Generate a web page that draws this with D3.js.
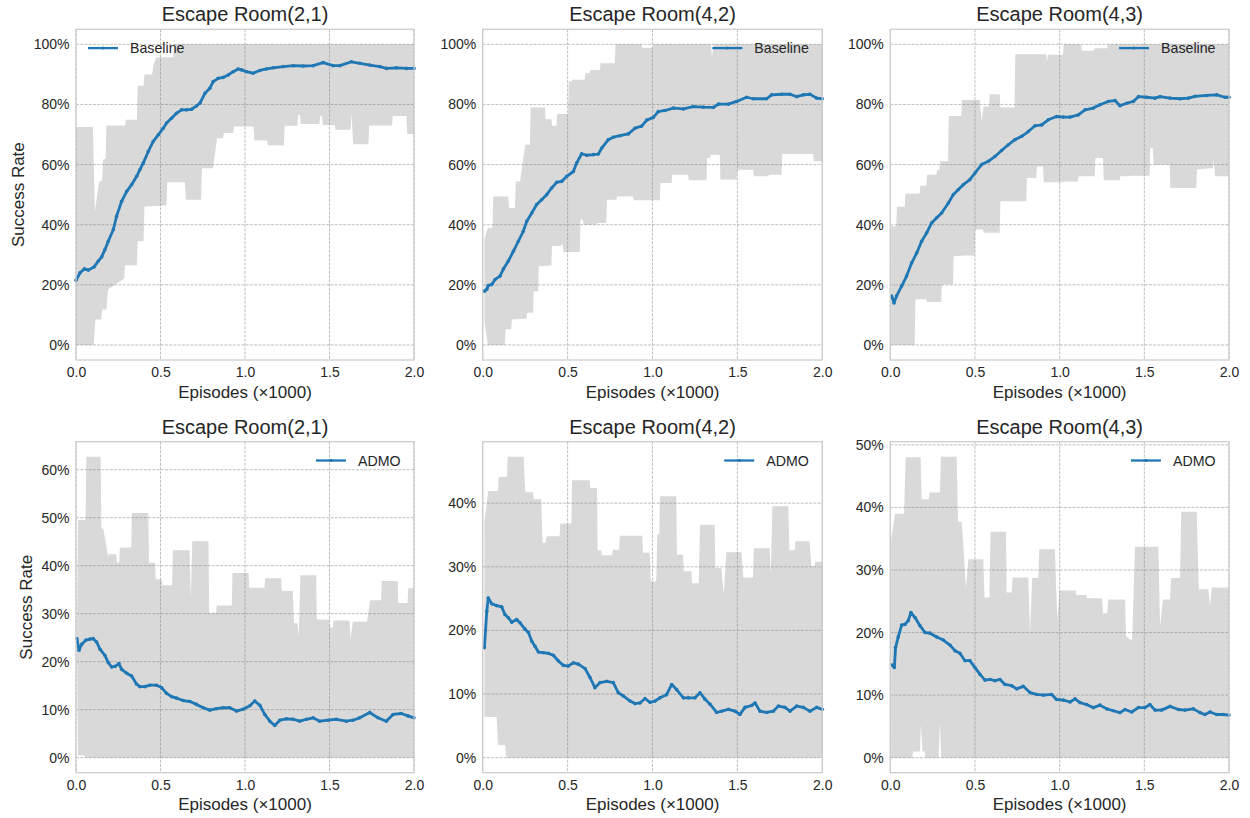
<!DOCTYPE html>
<html>
<head>
<meta charset="utf-8">
<script src="https://cdn.jsdelivr.net/npm/d3@7"></script>
<style>
  body { margin: 0; background: #fff; }
  text { font-family: "Liberation Sans", Arial, sans-serif; fill: #262626; }
</style>
</head>
<body>
<svg id="chart" width="1250" height="818"></svg>
<script>
// ---- data (episodes in thousands, success rate 0..1) ----
const episodeTicks = [0, 0.5, 1, 1.5, 2];
const envTitles = ["Escape Room(2,1)", "Escape Room(4,2)", "Escape Room(4,3)"];
const methodNames = ["Baseline", "ADMO"];
const baseYTicks = [0, 0.2, 0.4, 0.6, 0.8, 1];
const admo21YTicks = [0, 0.1, 0.2, 0.3, 0.4, 0.5, 0.6];
const admo42YTicks = [0, 0.1, 0.2, 0.3, 0.4];
const admo43YTicks = [0, 0.1, 0.2, 0.3, 0.4, 0.5];

const base21Mean = [[0,0.215],[0.024,0.24],[0.05,0.253],[0.073,0.249],[0.106,0.259],[0.132,0.279],[0.152,0.293],[0.171,0.317],[0.191,0.345],[0.221,0.384],[0.24,0.428],[0.27,0.478],[0.3,0.511],[0.329,0.533],[0.359,0.561],[0.378,0.583],[0.398,0.605],[0.428,0.644],[0.457,0.677],[0.487,0.699],[0.516,0.721],[0.536,0.738],[0.565,0.754],[0.595,0.771],[0.625,0.782],[0.654,0.782],[0.684,0.784],[0.713,0.795],[0.733,0.804],[0.763,0.837],[0.792,0.854],[0.812,0.876],[0.841,0.887],[0.871,0.89],[0.9,0.898],[0.93,0.909],[0.96,0.918],[0.98,0.915],[1.009,0.909],[1.048,0.904],[1.088,0.913],[1.127,0.918],[1.167,0.922],[1.226,0.926],[1.285,0.929],[1.344,0.928],[1.403,0.929],[1.462,0.939],[1.522,0.929],[1.561,0.929],[1.63,0.942],[1.68,0.937],[1.739,0.931],[1.798,0.926],[1.837,0.92],[1.896,0.922],[1.956,0.92],[2,0.92]];
const base21Upper = [[0,0.725],[0.1,0.725],[0.112,0.445],[0.137,0.544],[0.155,0.546],[0.16,0.616],[0.175,0.62],[0.18,0.73],[0.29,0.73],[0.295,0.749],[0.36,0.749],[0.365,0.862],[0.4,0.862],[0.405,0.9],[0.45,0.9],[0.46,0.935],[0.475,0.957],[0.575,0.957],[0.58,1],[2,1]];
const base21Lower = [[0,0],[0.105,0],[0.115,0.085],[0.15,0.085],[0.155,0.118],[0.18,0.118],[0.19,0.185],[0.23,0.2],[0.285,0.22],[0.29,0.265],[0.36,0.265],[0.365,0.345],[0.4,0.345],[0.405,0.461],[0.535,0.464],[0.54,0.541],[0.645,0.541],[0.65,0.483],[0.74,0.483],[0.745,0.588],[0.81,0.588],[0.835,0.688],[0.87,0.688],[0.875,0.705],[0.93,0.705],[0.935,0.727],[1.05,0.727],[1.055,0.68],[1.13,0.68],[1.135,0.664],[1.23,0.664],[1.235,0.729],[1.31,0.729],[1.315,0.765],[1.325,0.765],[1.33,0.735],[1.44,0.735],[1.445,0.762],[1.455,0.762],[1.46,0.732],[1.53,0.732],[1.535,0.716],[1.625,0.716],[1.63,0.771],[1.64,0.668],[1.73,0.668],[1.735,0.73],[1.87,0.73],[1.875,0.762],[1.955,0.762],[1.96,0.702],[2,0.702]];

const base42Mean = [[0.01,0.179],[0.024,0.185],[0.033,0.198],[0.053,0.201],[0.073,0.218],[0.102,0.229],[0.122,0.253],[0.151,0.279],[0.181,0.312],[0.21,0.345],[0.239,0.378],[0.259,0.411],[0.289,0.439],[0.318,0.467],[0.347,0.483],[0.377,0.5],[0.406,0.522],[0.436,0.541],[0.465,0.544],[0.495,0.561],[0.534,0.577],[0.553,0.605],[0.583,0.636],[0.612,0.631],[0.652,0.633],[0.681,0.635],[0.701,0.655],[0.74,0.683],[0.769,0.691],[0.809,0.696],[0.858,0.702],[0.897,0.721],[0.936,0.728],[0.966,0.748],[1.005,0.757],[1.034,0.776],[1.074,0.78],[1.123,0.788],[1.182,0.785],[1.24,0.793],[1.299,0.791],[1.358,0.79],[1.388,0.801],[1.447,0.801],[1.496,0.81],[1.554,0.824],[1.594,0.819],[1.672,0.819],[1.702,0.832],[1.761,0.834],[1.81,0.834],[1.849,0.826],[1.888,0.832],[1.927,0.834],[1.967,0.821],[2,0.819]];
const base42Upper = [[0.01,0.353],[0.03,0.389],[0.058,0.389],[0.062,0.494],[0.15,0.494],[0.155,0.456],[0.19,0.456],[0.195,0.544],[0.22,0.544],[0.25,0.666],[0.278,0.666],[0.282,0.79],[0.367,0.79],[0.37,0.751],[0.405,0.751],[0.408,0.729],[0.435,0.729],[0.438,0.768],[0.503,0.768],[0.507,0.876],[0.524,0.876],[0.527,0.882],[0.6,0.882],[0.605,0.904],[0.63,0.904],[0.634,0.915],[0.69,0.915],[0.694,0.937],[0.778,0.937],[0.782,1],[0.935,1],[0.94,0.989],[1.003,0.989],[1.007,1],[1.345,1],[1.35,0.959],[1.36,1],[2,1]];
const base42Lower = [[0.01,0.08],[0.02,0.04],[0.03,0],[0.13,0],[0.135,0.052],[0.168,0.052],[0.172,0.085],[0.258,0.087],[0.262,0.107],[0.297,0.107],[0.3,0.179],[0.327,0.179],[0.33,0.262],[0.405,0.264],[0.408,0.329],[0.455,0.329],[0.47,0.335],[0.475,0.309],[0.572,0.309],[0.576,0.417],[0.59,0.417],[0.594,0.4],[0.67,0.4],[0.674,0.406],[0.728,0.406],[0.732,0.483],[0.788,0.483],[0.792,0.494],[0.886,0.494],[0.89,0.481],[1.043,0.481],[1.047,0.539],[1.112,0.539],[1.116,0.566],[1.21,0.566],[1.214,0.548],[1.318,0.548],[1.322,0.622],[1.338,0.622],[1.342,0.633],[1.396,0.633],[1.4,0.55],[1.495,0.55],[1.499,0.583],[1.593,0.583],[1.597,0.561],[1.681,0.561],[1.685,0.566],[1.76,0.566],[1.764,0.635],[1.946,0.635],[1.95,0.611],[2,0.611]];

const base43Mean = [[0.008,0.163],[0.022,0.14],[0.037,0.163],[0.067,0.196],[0.096,0.229],[0.126,0.273],[0.156,0.306],[0.185,0.345],[0.215,0.373],[0.244,0.406],[0.274,0.423],[0.303,0.439],[0.343,0.472],[0.372,0.5],[0.402,0.517],[0.431,0.533],[0.47,0.55],[0.5,0.572],[0.539,0.6],[0.579,0.611],[0.618,0.627],[0.657,0.647],[0.697,0.666],[0.736,0.683],[0.776,0.694],[0.815,0.71],[0.854,0.729],[0.894,0.732],[0.933,0.749],[0.982,0.76],[1.022,0.758],[1.061,0.758],[1.11,0.765],[1.15,0.782],[1.199,0.788],[1.238,0.799],[1.287,0.81],[1.327,0.813],[1.356,0.796],[1.396,0.804],[1.435,0.81],[1.465,0.826],[1.514,0.824],[1.563,0.821],[1.593,0.826],[1.652,0.821],[1.711,0.819],[1.76,0.821],[1.799,0.827],[1.868,0.83],[1.927,0.832],[1.976,0.824],[2,0.824]];
const base43Upper = [[0.005,0.395],[0.035,0.395],[0.039,0.46],[0.085,0.46],[0.089,0.503],[0.173,0.503],[0.177,0.53],[0.213,0.53],[0.217,0.566],[0.272,0.566],[0.276,0.583],[0.29,0.583],[0.294,0.611],[0.341,0.611],[0.345,0.762],[0.419,0.762],[0.423,0.815],[0.528,0.815],[0.54,0.74],[0.55,0.793],[0.583,0.793],[0.587,0.834],[0.646,0.834],[0.65,0.79],[0.734,0.79],[0.738,0.967],[0.92,0.967],[0.925,0.94],[0.93,0.965],[1.02,0.965],[1.024,1],[1.128,1],[1.132,0.979],[1.2,0.979],[1.205,0.987],[1.28,0.987],[1.285,1],[2,1]];
const base43Lower = [[0.005,0],[0.144,0],[0.148,0.152],[0.213,0.152],[0.217,0.143],[0.301,0.143],[0.305,0.201],[0.37,0.201],[0.374,0.295],[0.45,0.298],[0.498,0.298],[0.502,0.384],[0.547,0.384],[0.551,0.373],[0.646,0.373],[0.65,0.478],[0.803,0.478],[0.807,0.555],[0.862,0.555],[0.866,0.594],[0.902,0.594],[0.906,0.541],[1.02,0.541],[1.024,0.544],[1.108,0.544],[1.112,0.561],[1.207,0.561],[1.211,0.622],[1.256,0.622],[1.26,0.548],[1.354,0.548],[1.358,0.561],[1.413,0.561],[1.417,0.563],[1.531,0.563],[1.535,0.655],[1.55,0.655],[1.555,0.6],[1.65,0.6],[1.654,0.522],[1.807,0.522],[1.811,0.584],[1.886,0.588],[1.905,0.588],[1.91,0.616],[1.918,0.561],[2,0.561]];

const admo21Mean = [[0.005,0.248],[0.018,0.224],[0.033,0.236],[0.059,0.245],[0.083,0.247],[0.102,0.248],[0.122,0.241],[0.142,0.226],[0.171,0.213],[0.191,0.198],[0.211,0.189],[0.231,0.19],[0.254,0.196],[0.27,0.184],[0.3,0.176],[0.329,0.17],[0.359,0.153],[0.378,0.148],[0.408,0.148],[0.437,0.151],[0.477,0.151],[0.506,0.146],[0.536,0.134],[0.566,0.127],[0.595,0.124],[0.634,0.119],[0.674,0.117],[0.713,0.111],[0.753,0.104],[0.792,0.099],[0.831,0.102],[0.871,0.104],[0.91,0.104],[0.95,0.097],[0.989,0.101],[1.029,0.108],[1.058,0.118],[1.088,0.109],[1.117,0.09],[1.147,0.076],[1.176,0.067],[1.206,0.078],[1.245,0.081],[1.285,0.08],[1.324,0.076],[1.364,0.08],[1.403,0.083],[1.442,0.076],[1.492,0.078],[1.541,0.08],[1.6,0.076],[1.639,0.078],[1.679,0.083],[1.738,0.094],[1.787,0.083],[1.836,0.076],[1.876,0.09],[1.925,0.092],[1.964,0.087],[2,0.083]];
const admo21Upper = [[0.005,0.247],[0.012,0.495],[0.057,0.495],[0.061,0.627],[0.146,0.627],[0.15,0.479],[0.162,0.476],[0.19,0.42],[0.195,0.424],[0.238,0.424],[0.242,0.406],[0.255,0.406],[0.26,0.438],[0.327,0.438],[0.331,0.51],[0.428,0.51],[0.432,0.406],[0.468,0.406],[0.472,0.372],[0.508,0.372],[0.512,0.359],[0.569,0.359],[0.573,0.432],[0.672,0.432],[0.68,0.33],[0.688,0.451],[0.784,0.451],[0.788,0.302],[0.829,0.302],[0.833,0.317],[0.922,0.317],[0.926,0.385],[1.021,0.385],[1.025,0.354],[1.115,0.354],[1.119,0.374],[1.214,0.374],[1.218,0.347],[1.283,0.347],[1.29,0.28],[1.31,0.28],[1.318,0.253],[1.328,0.38],[1.421,0.38],[1.425,0.288],[1.498,0.288],[1.502,0.271],[1.52,0.271],[1.524,0.286],[1.618,0.286],[1.625,0.247],[1.638,0.283],[1.722,0.283],[1.74,0.328],[1.805,0.328],[1.809,0.368],[1.903,0.368],[1.907,0.322],[1.962,0.322],[1.966,0.353],[2,0.353]];
const admo21Lower = [[0.005,0.245],[0.012,0.005],[0.05,0.005],[0.055,0],[2,0]];

const admo42Mean = [[0.01,0.173],[0.024,0.23],[0.033,0.251],[0.053,0.242],[0.082,0.239],[0.112,0.237],[0.131,0.225],[0.151,0.22],[0.171,0.213],[0.2,0.217],[0.22,0.212],[0.249,0.202],[0.269,0.197],[0.289,0.183],[0.308,0.175],[0.328,0.166],[0.357,0.165],[0.387,0.164],[0.416,0.161],[0.446,0.152],[0.475,0.145],[0.504,0.144],[0.534,0.149],[0.563,0.147],[0.603,0.14],[0.632,0.126],[0.661,0.11],[0.691,0.118],[0.73,0.12],[0.769,0.118],[0.799,0.102],[0.828,0.097],[0.868,0.089],[0.897,0.085],[0.926,0.086],[0.956,0.093],[0.985,0.087],[1.015,0.089],[1.044,0.094],[1.083,0.099],[1.113,0.115],[1.142,0.107],[1.182,0.094],[1.211,0.094],[1.25,0.094],[1.28,0.102],[1.309,0.092],[1.339,0.084],[1.378,0.071],[1.407,0.073],[1.447,0.076],[1.486,0.073],[1.515,0.068],[1.545,0.079],[1.584,0.082],[1.604,0.086],[1.633,0.073],[1.672,0.071],[1.711,0.073],[1.741,0.081],[1.78,0.079],[1.81,0.073],[1.849,0.081],[1.888,0.079],[1.927,0.073],[1.967,0.079],[2,0.076]];
const admo42Upper = [[0.01,0.369],[0.033,0.419],[0.09,0.419],[0.094,0.441],[0.143,0.441],[0.147,0.473],[0.241,0.473],[0.251,0.417],[0.296,0.417],[0.3,0.406],[0.345,0.406],[0.352,0.338],[0.37,0.338],[0.377,0.348],[0.453,0.348],[0.457,0.368],[0.522,0.368],[0.526,0.436],[0.63,0.436],[0.634,0.424],[0.673,0.424],[0.677,0.326],[0.698,0.326],[0.702,0.318],[0.763,0.318],[0.767,0.327],[0.803,0.327],[0.807,0.349],[0.94,0.349],[0.944,0.322],[0.984,0.322],[0.99,0.277],[1.022,0.277],[1.028,0.351],[1.04,0.351],[1.044,0.411],[1.14,0.411],[1.144,0.319],[1.18,0.319],[1.184,0.293],[1.229,0.293],[1.233,0.274],[1.272,0.274],[1.28,0.366],[1.366,0.366],[1.37,0.298],[1.405,0.298],[1.42,0.257],[1.435,0.323],[1.524,0.323],[1.535,0.283],[1.592,0.283],[1.596,0.329],[1.69,0.329],[1.697,0.288],[1.706,0.395],[1.8,0.395],[1.806,0.326],[1.838,0.326],[1.842,0.34],[1.925,0.34],[1.935,0.301],[1.955,0.301],[1.959,0.308],[2,0.308]];
const admo42Lower = [[0.01,0.064],[0.082,0.064],[0.09,0.02],[0.131,0.02],[0.14,0],[2,0]];

const admo43Mean = [[0.012,0.148],[0.024,0.144],[0.031,0.176],[0.047,0.193],[0.067,0.212],[0.087,0.213],[0.106,0.219],[0.122,0.232],[0.146,0.224],[0.175,0.211],[0.205,0.2],[0.234,0.199],[0.274,0.193],[0.313,0.188],[0.352,0.18],[0.382,0.171],[0.411,0.167],[0.441,0.155],[0.47,0.155],[0.5,0.144],[0.53,0.133],[0.559,0.124],[0.589,0.125],[0.618,0.123],[0.648,0.125],[0.677,0.117],[0.717,0.115],[0.746,0.11],[0.785,0.114],[0.825,0.104],[0.864,0.101],[0.904,0.1],[0.953,0.101],[0.982,0.093],[1.022,0.092],[1.061,0.089],[1.091,0.094],[1.12,0.088],[1.159,0.085],[1.199,0.08],[1.238,0.084],[1.278,0.078],[1.317,0.075],[1.356,0.072],[1.386,0.077],[1.425,0.073],[1.465,0.08],[1.504,0.08],[1.533,0.085],[1.563,0.076],[1.602,0.076],[1.652,0.082],[1.701,0.077],[1.74,0.076],[1.789,0.078],[1.829,0.072],[1.858,0.069],[1.888,0.073],[1.927,0.069],[1.967,0.069],[2,0.068]];
const admo43Upper = [[0.005,0.349],[0.028,0.39],[0.081,0.39],[0.091,0.48],[0.179,0.48],[0.185,0.413],[0.229,0.413],[0.232,0.424],[0.293,0.424],[0.299,0.481],[0.392,0.481],[0.4,0.377],[0.421,0.377],[0.43,0.345],[0.447,0.27],[0.461,0.317],[0.549,0.317],[0.556,0.256],[0.585,0.256],[0.592,0.361],[0.683,0.361],[0.687,0.264],[0.717,0.264],[0.722,0.288],[0.815,0.288],[0.825,0.2],[0.838,0.287],[0.874,0.287],[0.88,0.333],[0.972,0.333],[0.986,0.221],[1,0.267],[1.094,0.267],[1.098,0.26],[1.159,0.26],[1.163,0.255],[1.25,0.255],[1.256,0.231],[1.28,0.231],[1.287,0.253],[1.386,0.253],[1.392,0.194],[1.428,0.187],[1.445,0.337],[1.583,0.337],[1.593,0.21],[1.61,0.253],[1.652,0.253],[1.658,0.287],[1.711,0.287],[1.718,0.393],[1.809,0.393],[1.822,0.269],[1.878,0.269],[1.888,0.243],[1.898,0.272],[2,0.272]];
const admo43Lower = [[0.005,0],[0.13,0],[0.134,0.01],[0.175,0.01],[0.181,0.053],[0.19,0.01],[0.204,0.01],[0.206,0],[0.285,0],[0.293,0.057],[0.3,0],[2,0]];

// ---- layout ----
let svg = d3.select("#chart")
const colLeft = [76, 482.7, 890.3]
const colRight = [414, 822.3, 1229]
const rowTop = [29.3, 441.7]
const rowBottom = [360, 772.7]
const blue = "#1f77b4"

let panels = [
  { mean: base21Mean, upper: base21Upper, lower: base21Lower, ticks: baseYTicks, legendLeft: true },
  { mean: base42Mean, upper: base42Upper, lower: base42Lower, ticks: baseYTicks },
  { mean: base43Mean, upper: base43Upper, lower: base43Lower, ticks: baseYTicks },
  { mean: admo21Mean, upper: admo21Upper, lower: admo21Lower, ticks: admo21YTicks },
  { mean: admo42Mean, upper: admo42Upper, lower: admo42Lower, ticks: admo42YTicks },
  { mean: admo43Mean, upper: admo43Upper, lower: admo43Lower, ticks: admo43YTicks }
]

panels.forEach(function (p, i) {
  let row = Math.floor(i / 3), col = i % 3
  let left = colLeft[col], right = colRight[col], top = rowTop[row], bottom = rowBottom[row]

  let x = d3.scaleLinear().domain([0, 2]).range([left, right])
  // matplotlib style 5% margins around the data range
  let vals = p.upper.concat(p.lower).map(d => d[1])
  let lo = d3.min(vals), hi = d3.max(vals), pad = (hi - lo) * 0.05
  let y = d3.scaleLinear().domain([lo - pad, hi + pad]).range([bottom, top])

  let g = svg.append("g")

  g.append("clipPath").attr("id", "clip" + i)
    .append("rect").attr("x", left).attr("y", top).attr("width", right - left).attr("height", bottom - top)

  // dashed grid
  g.selectAll(".vgrid").data(episodeTicks).join("line")
    .attr("x1", d => x(d)).attr("x2", d => x(d)).attr("y1", top).attr("y2", bottom)
    .style("stroke", "#b0b0b0").style("stroke-width", 0.8).style("stroke-dasharray", "2.96,1.28")
  g.selectAll(".hgrid").data(p.ticks).join("line")
    .attr("x1", left).attr("x2", right).attr("y1", d => y(d)).attr("y2", d => y(d))
    .style("stroke", "#b0b0b0").style("stroke-width", 0.8).style("stroke-dasharray", "2.96,1.28")

  // min/max band: upper edge forward, lower edge back
  let edge = d3.line().x(d => x(d[0])).y(d => y(d[1]))
  g.append("path")
    .attr("d", edge(p.upper.concat(p.lower.slice().reverse())) + "Z")
    .attr("clip-path", "url(#clip" + i + ")")
    .style("fill", "grey").style("fill-opacity", 0.3).style("stroke", "none")

  // mean curve with small dot markers
  g.append("path")
    .attr("d", edge(p.mean))
    .attr("clip-path", "url(#clip" + i + ")")
    .style("fill", "none").style("stroke", blue).style("stroke-width", 2.8)
    .style("stroke-linejoin", "round")
  g.selectAll(".dot").data(p.mean).join("circle")
    .attr("cx", d => x(d[0])).attr("cy", d => y(d[1])).attr("r", 1.8)
    .attr("fill", blue)

  // frame
  g.append("rect")
    .attr("x", left).attr("y", top).attr("width", right - left).attr("height", bottom - top)
    .style("fill", "none").style("stroke", "#cccccc").style("stroke-width", 1.25)

  // axes (labels only)
  let xAxis = g.append("g")
    .attr("transform", `translate(0,${bottom})`)
    .call(d3.axisBottom(x).tickValues(episodeTicks).tickSize(0).tickPadding(7).tickFormat(d3.format(".1f")))
  let yAxis = g.append("g")
    .attr("transform", `translate(${left},0)`)
    .call(d3.axisLeft(y).tickValues(p.ticks).tickSize(0).tickPadding(6.5).tickFormat(d3.format(".0%")))
  ;[xAxis, yAxis].forEach(a => {
    a.select(".domain").remove()
    a.selectAll("text").style("font-size", "14px").style("font-family", "'Liberation Sans', Arial, sans-serif").attr("fill", "#262626")
  })

  // title and x label
  g.append("text")
    .attr("x", (left + right) / 2).attr("y", top - 8)
    .attr("text-anchor", "middle").style("font-size", "20px")
    .text(envTitles[col])
  g.append("text")
    .attr("x", (left + right) / 2).attr("y", bottom + 37.5)
    .attr("text-anchor", "middle").style("font-size", "17px")
    .text("Episodes (×1000)")

  if (col == 0) {
    // bbox is in the axis group's local frame, shift by its translate
    let bb = yAxis.node().getBBox()
    g.append("text")
      .attr("transform", `translate(${left + bb.x - 9.5},${(top + bottom) / 2}) rotate(-90)`)
      .attr("text-anchor", "middle").style("font-size", "17px")
      .text("Success Rate")
  }

  // legend, no frame
  let ly = top + 18.8
  let label = g.append("text")
    .attr("y", ly + 5).style("font-size", "14.2px")
    .text(methodNames[row])
  let textX
  if (p.legendLeft) {
    textX = left + 54
  } else {
    textX = right - 13.5 - label.node().getComputedTextLength()
  }
  label.attr("x", textX)
  g.append("line")
    .attr("x1", textX - 42).attr("x2", textX - 12).attr("y1", ly).attr("y2", ly)
    .style("stroke", blue).style("stroke-width", 2.3)
  g.append("circle").attr("cx", textX - 27).attr("cy", ly).attr("r", 1.5).attr("fill", blue)
})
</script>
</body>
</html>
